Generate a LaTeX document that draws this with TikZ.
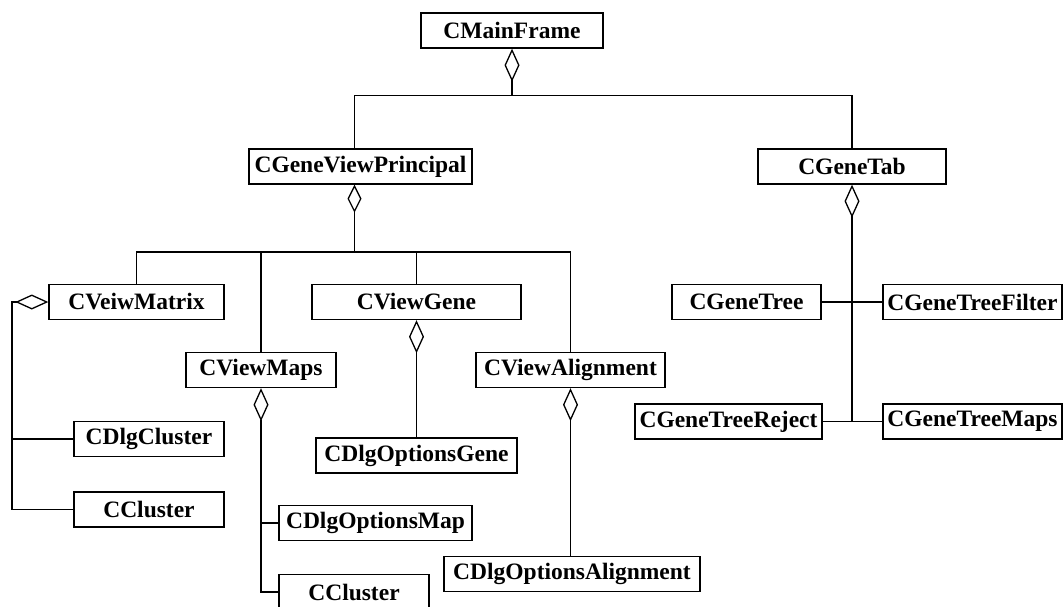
\documentclass[tikz,border=0pt]{standalone}
\usepackage{fontspec}
\setmainfont{Liberation Serif}
\usetikzlibrary{arrows.meta}

\tikzset{
  cls/.style={draw, line width=1.4pt, fill=white, inner sep=0pt,
    minimum height=35pt, font=\bfseries\fontsize{23.5}{27}\selectfont},
  link/.style={line width=1.3pt},
  agg/.style={link, {Diamond[open, length=33pt 0, width=15pt 0, line width=1.3pt]}-},
  aggs/.style={link, {Diamond[open, length=28pt 0, width=14pt 0, line width=1.3pt]}-}
}

\begin{document}
\begin{tikzpicture}[x=1pt, y=-1pt]
  \useasboundingbox (0,0) rectangle (1064,606);
  \clip (0,0) rectangle (1064,606);

  % class boxes
  \node[cls, minimum width=182pt] (mf)    at (512,30.5)   {CMainFrame};
  \node[cls, minimum width=223pt] (gvp)   at (360.5,166.5) {CGeneViewPrincipal};
  \node[cls, minimum width=188pt] (gt)    at (852,166.5)  {CGeneTab};
  \node[cls, minimum width=175pt] (vm)    at (136.5,302)  {CVeiwMatrix};
  \node[cls, minimum width=150pt] (vmaps) at (261,370)    {CViewMaps};
  \node[cls, minimum width=209pt] (vg)    at (416.5,302)  {CViewGene};
  \node[cls, minimum width=189pt] (va)    at (570.5,370)  {CViewAlignment};
  \node[cls, minimum width=150pt] (dc)    at (149,439)    {CDlgCluster};
  \node[cls, minimum width=150pt] (cc1)   at (149,509.5)  {CCluster};
  \node[cls, minimum width=193pt] (dom)   at (375.5,523)  {CDlgOptionsMap};
  \node[cls, minimum width=150pt] (cc2)   at (354,592)    {CCluster};
  \node[cls, minimum width=201pt] (dog)   at (416.5,455.5) {CDlgOptionsGene};
  \node[cls, minimum width=256pt] (doa)   at (572,574)    {CDlgOptionsAlignment};
  \node[cls, minimum width=149pt] (gtree) at (746.5,302)  {CGeneTree};
  \node[cls, minimum width=179pt] (gtf)   at (972.5,302)  {CGeneTreeFilter};
  \node[cls, minimum width=187pt] (gtr)   at (728.5,421.5) {CGeneTreeReject};
  \node[cls, minimum width=179pt] (gtm)   at (972.5,421.5) {CGeneTreeMaps};

  % junction points of the branching connectors
  \coordinate (j1) at (512,95.5);
  \coordinate (j2) at (354.5,252);
  \coordinate (j3) at (12,302);
  \coordinate (j4) at (852,421.5);
  \coordinate (j5) at (261,440);

  % CMainFrame aggregates the principal view and the tab
  \draw[agg] (mf.south) -- (j1);
  \draw[link] (j1) -| ([xshift=-6pt]gvp.north);
  \draw[link] (j1) -| (gt.north);

  % CGeneViewPrincipal aggregates the four views
  \draw[aggs] ([xshift=-6pt]gvp.south) -- (j2);
  \draw[link] (j2) -| (vm.north);
  \draw[link] (j2) -| (vmaps.north);
  \draw[link] (j2) -| (vg.north);
  \draw[link] (j2) -| (va.north);

  % CVeiwMatrix
  \draw[agg] (vm.west) -- (j3) |- (cc1.west);
  \draw[link] (j3) |- (dc.west);

  % CViewMaps
  \draw[agg] (vmaps.south) |- (cc2.west);
  \draw[link] (j5) |- (dom.west);

  % CViewGene
  \draw[agg] (vg.south) -- (dog.north);

  % CViewAlignment
  \draw[agg] (va.south) -- (va.south |- doa.north);

  % CGeneTab
  \draw[agg] (gt.south) -- (j4);
  \draw[link] (gtree.east) -- (gtf.west);
  \draw[link] (gtr.east) -- (gtm.west);
\end{tikzpicture}
\end{document}
